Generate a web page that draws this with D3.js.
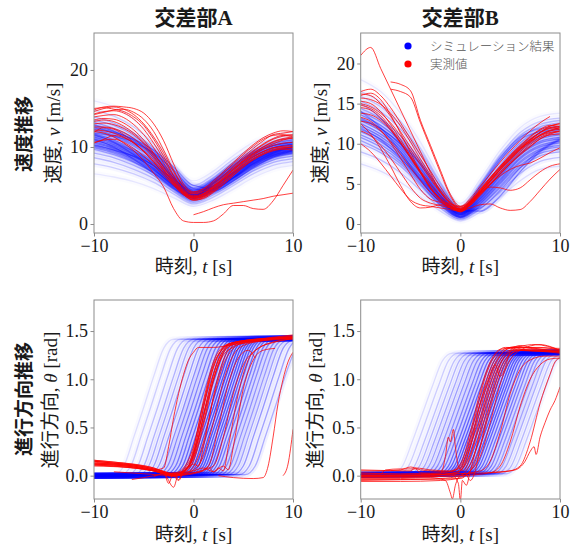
<!DOCTYPE html>
<html><head><meta charset="utf-8">
<script src="https://cdn.jsdelivr.net/npm/d3@7"></script>
<style>
body{margin:0;background:#fff}
svg{display:block}
text{font-family:"Liberation Serif","Noto Sans CJK JP",serif;fill:#1a1a1a}
</style></head><body>
<svg id="c" width="578" height="546"></svg>
<script>
// ---------------- DATA ----------------
const colTitles = ["交差部A", "交差部B"];
const rowTitles = ["速度推移", "進行方向推移"];
const legendLabels = ["シミュレーション結果", "実測値"];
const xTicks = [-10, 0, 10];
const speedATicks = [0, 10, 20];
const speedBTicks = [0, 5, 10, 15, 20];
const headTicks = [0, 0.5, 1.0, 1.5];

// time grids
const tFine = [-10,-9,-8,-7,-6,-5,-4,-3,-2,-1,0,1,2,3,4,5,6,7,8,9,10];
const tCoarse = [-10,-8,-6,-4,-2,0,2,4,6,8,10];

// simulation (blue) speed, intersection A  (values at tCoarse)
const speedA_sim = [
[16.0,15.2,13.6,11.2,7.8,5.6,6.9,8.9,10.6,11.6,12.0],
[14.8,14.0,12.6,10.4,7.2,5.0,6.4,8.4,10.0,11.1,11.6],
[13.9,13.1,11.8,9.8,6.8,4.7,6.0,8.0,9.6,10.7,11.2],
[13.5,12.8,11.5,9.5,6.6,4.5,5.8,7.8,9.4,10.5,11.0],
[13.2,12.4,11.1,9.2,6.4,4.4,5.7,7.6,9.3,10.4,10.9],
[12.9,12.1,10.8,9.0,6.3,4.3,5.5,7.4,9.1,10.2,10.7],
[12.6,11.8,10.6,8.8,6.1,4.2,5.4,7.3,9.0,10.1,10.6],
[12.3,11.5,10.3,8.6,6.0,4.1,5.3,7.1,8.8,9.9,10.4],
[12.1,11.3,10.1,8.4,5.9,4.0,5.2,7.0,8.7,9.8,10.3],
[11.7,10.9,9.7,8.1,5.7,3.9,5.0,6.8,8.5,9.6,10.1],
[11.5,10.7,9.5,7.9,5.6,3.8,4.9,6.7,8.4,9.5,10.0],
[11.3,10.5,9.4,7.8,5.5,3.8,4.9,6.6,8.3,9.4,9.9],
[11.1,10.3,9.2,7.6,5.4,3.7,4.8,6.5,8.2,9.3,9.8],
[10.9,10.1,9.0,7.5,5.3,3.6,4.7,6.4,8.1,9.2,9.7],
[10.7,9.9,8.8,7.3,5.2,3.5,4.6,6.3,8.0,9.1,9.6],
[10.5,9.8,8.7,7.2,5.1,3.5,4.6,6.2,7.9,9.0,9.5],
[10.3,9.6,8.5,7.0,5.0,3.4,4.5,6.1,7.8,8.9,9.4],
[10.1,9.4,8.3,6.9,4.9,3.4,4.4,6.0,7.7,8.8,9.3],
[9.9,9.2,8.1,6.7,4.8,3.3,4.3,5.9,7.5,8.7,9.2],
[9.7,9.0,8.0,6.6,4.7,3.2,4.2,5.8,7.4,8.6,9.1],
[9.2,8.6,7.6,6.3,4.5,3.0,4.0,5.6,7.2,8.3,8.8],
[8.6,8.0,7.1,5.9,4.2,2.8,3.8,5.3,6.9,8.0,8.5],
[7.8,7.3,6.5,5.4,3.9,2.6,3.5,5.0,6.5,7.6,8.1],
[6.5,6.1,5.5,4.6,3.4,2.3,3.1,4.5,6.0,7.1,7.6],
[12.4,11.9,11.0,9.6,7.4,5.0,4.6,6.0,7.8,9.2,10.0],
[11.8,11.4,10.6,9.2,7.0,4.6,4.3,5.6,7.3,8.7,9.5],
[11.0,10.0,8.4,6.6,4.6,3.4,5.6,7.6,9.2,10.2,10.6],
[11.6,10.6,9.0,7.1,5.0,3.6,5.3,7.2,8.8,9.9,10.4],
[12.8,12.0,10.9,9.0,6.0,3.7,4.4,6.0,7.6,8.9,9.6],
[10.2,9.6,8.8,7.6,5.8,4.1,5.0,6.6,8.2,9.4,10.0]
];
// measured (red) speed, intersection A (values at tFine)
const speedA_obs = [
[14.6,15.0,15.2,14.9,14.2,13.0,11.3,9.2,6.8,4.8,4.0,4.3,5.2,6.3,7.5,8.7,9.8,10.8,11.6,11.8,12.0],
[15.0,15.1,14.9,14.6,13.9,12.8,11.0,8.8,6.3,4.4,3.7,4.0,4.9,6.0,7.2,8.3,9.4,10.3,11.0,11.4,11.6],
[14.3,14.6,14.7,14.4,13.6,12.3,10.5,8.4,6.2,4.5,3.9,4.2,5.0,6.2,7.4,8.5,9.5,10.4,11.1,11.5,11.3],
[13.9,14.1,14.2,13.8,12.9,11.6,9.9,7.9,5.9,4.3,3.6,3.9,4.8,5.9,7.1,8.2,9.2,10.0,10.6,11.0,11.1],
[13.5,13.7,13.6,13.1,12.2,10.9,9.2,7.4,5.6,4.1,3.4,3.7,4.6,5.7,6.8,7.9,8.9,9.7,10.2,10.5,10.6],
[13.0,13.1,12.9,12.4,11.6,10.4,8.8,7.1,5.4,4.0,3.3,3.6,4.5,5.5,6.6,7.7,8.7,9.4,9.9,10.1,10.2],
[12.6,12.6,12.4,11.9,11.1,10.0,8.6,7.0,5.3,3.9,3.2,3.5,4.3,5.4,6.5,7.6,8.5,9.2,9.7,9.9,10.0],
[12.2,12.1,11.8,11.3,10.5,9.4,8.1,6.6,5.1,3.8,3.1,3.4,4.2,5.2,6.3,7.4,8.4,9.1,9.6,9.8,9.9],
[11.9,12.5,12.3,11.6,10.6,9.4,8.0,6.6,5.2,4.0,3.5,3.8,4.7,5.8,7.0,8.1,9.0,9.8,10.4,10.9,11.2],
[10.5,11.0,11.5,11.2,10.5,9.5,8.3,6.9,5.4,4.1,3.4,3.6,4.4,5.5,6.7,7.8,8.7,9.4,9.9,10.0,9.9],
[10.6,10.9,11.0,10.6,9.8,8.8,7.6,6.3,5.0,3.8,3.1,3.3,4.1,5.1,6.3,7.4,8.3,9.0,9.5,9.7,9.6],
[14.8,15.2,15.3,15.2,15.0,14.4,13.0,10.8,7.8,5.2,4.2,4.6,5.6,6.8,8.0,9.2,10.3,11.2,11.8,12.1,12.0],
[14.2,14.5,14.8,14.9,14.5,13.6,12.0,9.6,7.0,4.9,4.1,4.5,5.4,6.6,7.8,9.0,10.1,11.0,11.5,11.6,11.5],
[12.0,11.8,11.3,10.5,9.5,8.2,6.6,4.8,2.0,0.4,0.2,0.2,0.4,1.3,2.4,2.4,2.0,1.9,3.0,5.0,7.0],
[null,null,null,null,null,null,null,null,null,null,1.2,1.6,2.1,2.5,2.7,2.9,3.1,3.3,3.6,3.8,4.0],
[13.3,13.5,13.3,12.7,11.8,10.6,9.1,7.4,5.7,4.2,3.5,3.9,4.8,5.9,7.0,8.1,9.1,10.0,10.7,11.1,11.3]
];
// simulation (blue) speed, intersection B (values at tCoarse)
const speedB_sim = [
[18.0,16.5,13.8,10.2,5.8,2.6,5.6,9.2,12.0,13.4,13.8],
[16.5,15.2,12.8,9.4,5.2,2.2,5.0,8.6,11.4,12.8,13.2],
[15.9,14.6,12.3,9.0,5.0,2.0,4.7,8.2,11.0,12.4,12.9],
[15.3,14.0,11.8,8.6,4.7,1.9,4.5,7.9,10.7,12.1,12.6],
[14.4,13.1,11.0,7.9,4.2,1.7,4.1,7.3,10.1,11.6,12.1],
[14.0,12.7,10.6,7.6,4.0,1.6,3.9,7.0,9.8,11.3,11.8],
[13.6,12.3,10.3,7.3,3.8,1.5,3.7,6.8,9.6,11.1,11.6],
[13.2,11.9,9.9,7.0,3.6,1.4,3.5,6.5,9.3,10.8,11.3],
[12.9,11.6,9.6,6.8,3.5,1.3,3.4,6.3,9.1,10.6,11.1],
[12.5,11.2,9.3,6.5,3.3,1.2,3.2,6.1,8.8,10.3,10.8],
[12.2,10.9,9.0,6.3,3.2,1.2,3.1,5.9,8.6,10.1,10.6],
[11.8,10.6,8.7,6.0,3.0,1.1,2.9,5.6,8.3,9.8,10.3],
[11.5,10.3,8.4,5.8,2.9,1.0,2.8,5.4,8.1,9.6,10.1],
[11.1,9.9,8.1,5.5,2.7,0.9,2.6,5.2,7.8,9.3,9.8],
[10.8,9.6,7.8,5.3,2.6,0.9,2.5,5.0,7.6,9.1,9.6],
[10.4,9.2,7.5,5.0,2.4,0.8,2.3,4.7,7.3,8.8,9.3],
[10.0,8.9,7.2,4.8,2.3,0.8,2.2,4.5,7.0,8.5,9.0],
[9.0,8.0,6.4,4.2,2.0,0.6,1.9,4.0,6.3,7.8,8.3],
[7.5,6.6,5.2,3.4,1.6,0.4,1.5,3.3,5.4,6.8,7.2],
[13.0,11.9,10.0,7.5,4.3,1.8,1.6,3.5,6.5,9.0,10.5],
[12.0,10.5,8.2,5.6,3.2,1.5,2.0,4.2,7.0,9.2,10.6],
[14.0,12.0,9.0,5.5,2.8,1.4,4.5,8.0,10.5,11.5,11.8],
[15.0,13.2,10.0,6.5,3.5,1.6,4.8,8.3,10.8,11.9,12.2]
];
// measured (red) speed, intersection B (values at tFine)
const speedB_obs = [
[21.0,22.0,19.4,16.8,14.2,11.6,9.0,6.4,4.0,2.6,2.1,3.0,4.4,5.8,7.2,8.5,9.7,10.8,11.7,12.2,12.5],
[null,null,null,17.7,17.4,16.6,12.9,9.8,6.7,3.7,2.2,2.8,4.2,5.7,7.1,8.4,9.6,10.6,11.4,11.9,12.1],
[null,null,null,16.8,16.5,15.8,12.6,9.5,6.4,3.5,2.0,2.7,4.0,5.4,6.8,8.1,9.3,10.3,11.1,11.6,11.8],
[16.5,16.8,16.0,14.5,12.6,10.6,8.6,6.6,4.6,2.9,1.9,2.9,4.3,5.8,7.2,8.6,9.8,10.9,11.8,12.3,12.1],
[16.2,16.0,15.0,13.4,11.5,9.6,7.7,5.8,4.0,2.6,1.8,2.7,4.1,5.6,7.0,8.3,9.5,10.5,11.4,12.0,11.8],
[15.7,15.5,14.9,13.8,12.2,10.2,8.1,6.1,4.2,2.7,1.8,2.6,4.0,5.4,6.8,8.1,9.3,10.4,11.4,12.2,12.5],
[15.0,14.6,13.8,12.6,11.0,9.2,7.4,5.6,3.9,2.5,1.6,2.5,3.8,5.2,6.5,7.8,9.0,10.1,11.0,11.6,12.0],
[14.5,14.2,13.2,11.8,10.1,8.3,6.6,5.0,3.5,2.3,1.6,2.3,3.6,4.9,6.3,7.6,8.8,9.9,10.8,11.3,11.5],
[13.8,13.6,12.9,11.7,10.1,8.2,6.3,4.5,3.2,2.2,1.5,2.4,3.7,5.0,6.3,7.5,8.6,9.6,10.6,11.1,11.2],
[16.0,16.3,15.5,13.6,11.3,8.9,6.5,4.4,3.0,2.5,2.2,3.2,4.7,6.2,7.7,9.1,10.4,11.6,12.6,13.4,null],
[10.0,9.0,7.6,6.0,4.4,3.0,2.4,2.2,2.0,1.8,1.6,2.5,3.9,5.3,6.7,8.0,9.2,10.2,11.1,11.7,12.0],
[11.6,11.0,9.8,8.2,6.4,4.6,3.2,2.6,2.3,2.0,1.7,2.4,3.6,4.9,6.2,7.5,8.7,9.7,10.6,11.2,11.6],
[13.3,12.8,11.7,10.1,8.2,6.2,4.3,3.1,2.7,2.3,1.8,2.6,4.0,5.4,6.8,8.2,9.4,10.5,11.4,12.0,12.2],
[12.5,11.2,9.4,7.2,4.8,2.8,2.0,2.1,2.4,2.2,1.8,2.8,4.2,5.6,7.0,8.3,9.4,10.3,11.0,11.4,11.6],
[15.3,15.0,14.0,12.4,10.5,8.5,6.5,4.6,3.0,2.0,1.6,2.0,2.4,2.5,2.0,1.7,1.8,2.8,4.2,5.6,6.8],
[14.8,14.4,13.5,12.0,10.2,8.3,6.4,4.6,3.1,2.1,1.9,2.8,3.9,4.6,4.5,4.2,4.5,5.5,6.5,7.2,7.5],
[12.8,12.5,11.6,10.3,8.7,7.0,5.4,3.9,2.8,2.0,1.7,2.6,3.8,5.0,6.0,6.8,7.3,7.6,8.2,8.9,9.5]
];
// simulation (blue) heading, intersection A ([t, theta] points)
const headA_sim = [
[[-10,0],[-8,0.01],[-7,0.1],[-6,0.4],[-5,0.71],[-4,1.03],[-3,1.32],[-2,1.415],[10,1.425]],
[[-10,0],[-7.3,0.01],[-6.3,0.1],[-5.3,0.4],[-4.3,0.71],[-3.3,1.03],[-2.3,1.32],[-1.3,1.415],[10,1.425]],
[[-10,0],[-6.6,0.01],[-5.6,0.1],[-4.6,0.4],[-3.6,0.71],[-2.6,1.03],[-1.6,1.32],[-0.6,1.415],[10,1.425]],
[[-10,0],[-6,0.01],[-5,0.1],[-4,0.4],[-3,0.71],[-2,1.03],[-1,1.32],[0,1.415],[10,1.425]],
[[-10,0],[-5.5,0.01],[-4.5,0.1],[-3.5,0.4],[-2.5,0.71],[-1.5,1.03],[-0.5,1.32],[0.5,1.415],[10,1.425]],
[[-10,0],[-5,0.01],[-4,0.1],[-3,0.4],[-2,0.71],[-1,1.03],[0,1.32],[1,1.415],[10,1.425]],
[[-10,0],[-4.5,0.01],[-3.5,0.1],[-2.5,0.4],[-1.5,0.71],[-0.5,1.03],[0.5,1.32],[1.5,1.415],[10,1.425]],
[[-10,0],[-4,0.01],[-3,0.1],[-2,0.4],[-1,0.71],[0,1.03],[1,1.32],[2,1.415],[10,1.425]],
[[-10,0],[-3.6,0.01],[-2.6,0.1],[-1.6,0.4],[-0.6,0.71],[0.4,1.03],[1.4,1.32],[2.4,1.415],[10,1.425]],
[[-10,0],[-3.2,0.01],[-2.2,0.1],[-1.2,0.4],[-0.2,0.71],[0.8,1.03],[1.8,1.32],[2.8,1.415],[10,1.425]],
[[-10,0],[-2.8,0.01],[-1.8,0.1],[-0.8,0.4],[0.2,0.71],[1.2,1.03],[2.2,1.32],[3.2,1.415],[10,1.425]],
[[-10,0],[-2.45,0.01],[-1.45,0.1],[-0.45,0.4],[0.55,0.71],[1.55,1.03],[2.55,1.32],[3.55,1.415],[10,1.425]],
[[-10,0],[-2.1,0.01],[-1.1,0.1],[-0.1,0.4],[0.9,0.71],[1.9,1.03],[2.9,1.32],[3.9,1.415],[10,1.425]],
[[-10,0],[-1.8,0.01],[-0.8,0.1],[0.2,0.4],[1.2,0.71],[2.2,1.03],[3.2,1.32],[4.2,1.415],[10,1.425]],
[[-10,0],[-1.5,0.01],[-0.5,0.1],[0.5,0.4],[1.5,0.71],[2.5,1.03],[3.5,1.32],[4.5,1.415],[10,1.425]],
[[-10,0],[-1.25,0.01],[-0.25,0.1],[0.75,0.4],[1.75,0.71],[2.75,1.03],[3.75,1.32],[4.75,1.415],[10,1.425]],
[[-10,0],[-1,0.01],[0,0.1],[1,0.4],[2,0.71],[3,1.03],[4,1.32],[5,1.415],[10,1.425]],
[[-10,0],[-0.75,0.01],[0.25,0.1],[1.25,0.4],[2.25,0.71],[3.25,1.03],[4.25,1.32],[5.25,1.415],[10,1.425]],
[[-10,0],[-0.5,0.01],[0.5,0.1],[1.5,0.4],[2.5,0.71],[3.5,1.03],[4.5,1.32],[5.5,1.415],[10,1.425]],
[[-10,0],[-0.25,0.01],[0.75,0.1],[1.75,0.4],[2.75,0.71],[3.75,1.03],[4.75,1.32],[5.75,1.415],[10,1.425]],
[[-10,0],[0,0.01],[1,0.1],[2,0.4],[3,0.71],[4,1.03],[5,1.32],[6,1.415],[10,1.425]],
[[-10,0],[0.25,0.01],[1.25,0.1],[2.25,0.4],[3.25,0.71],[4.25,1.03],[5.25,1.32],[6.25,1.415],[10,1.425]],
[[-10,0],[0.5,0.01],[1.5,0.1],[2.5,0.4],[3.5,0.71],[4.5,1.03],[5.5,1.32],[6.5,1.415],[10,1.425]],
[[-10,0],[0.75,0.01],[1.75,0.1],[2.75,0.4],[3.75,0.71],[4.75,1.03],[5.75,1.32],[6.75,1.415],[10,1.425]],
[[-10,0],[1,0.01],[2,0.1],[3,0.4],[4,0.71],[5,1.03],[6,1.32],[7,1.415],[10,1.425]],
[[-10,0],[1.3,0.01],[2.3,0.1],[3.3,0.4],[4.3,0.71],[5.3,1.03],[6.3,1.32],[7.3,1.415],[10,1.425]],
[[-10,0],[1.6,0.01],[2.6,0.1],[3.6,0.4],[4.6,0.71],[5.6,1.03],[6.6,1.32],[7.6,1.415],[10,1.425]],
[[-10,0],[1.95,0.01],[2.95,0.1],[3.95,0.4],[4.95,0.71],[5.95,1.03],[6.95,1.32],[7.95,1.415],[10,1.425]],
[[-10,0],[2.3,0.01],[3.3,0.1],[4.3,0.4],[5.3,0.71],[6.3,1.03],[7.3,1.32],[8.3,1.415],[10,1.425]],
[[-10,0],[2.7,0.01],[3.7,0.1],[4.7,0.4],[5.7,0.71],[6.7,1.03],[7.7,1.32],[8.7,1.415],[10,1.425]],
[[-10,0],[3.1,0.01],[4.1,0.1],[5.1,0.4],[6.1,0.71],[7.1,1.03],[8.1,1.32],[9.1,1.415],[10,1.425]],
[[-10,0],[3.5,0.01],[4.5,0.1],[5.5,0.4],[6.5,0.71],[7.5,1.03],[8.5,1.32],[9.5,1.415],[10,1.425]],
[[-10,0],[4,0.01],[5,0.1],[6,0.4],[7,0.71],[8,1.03],[9,1.32],[10,1.415]],
[[-10,0],[4.6,0.01],[5.6,0.1],[6.6,0.4],[7.6,0.71],[8.6,1.03],[9.6,1.32],[10,1.38]],
[[-10,0],[5.2,0.01],[6.2,0.1],[7.2,0.4],[8.2,0.71],[9.2,1.03],[10,1.26]]
];
// measured (red) heading, intersection A
const headA_obs = [
[[-10,0.15],[-8,0.13],[-6,0.11],[-4,0.07],[-3,0.04],[-2,0.01],[-1,0.05],[0,0.2],[1,0.62],[2,1.05],[3,1.3],[4,1.37],[6,1.4],[8,1.42],[10,1.44]],
[[-10,0.14],[-8,0.12],[-6,0.1],[-4,0.06],[-2,0.0],[-1,0.03],[0,0.15],[1,0.52],[2,0.98],[3,1.27],[4,1.36],[6,1.4],[8,1.42],[10,1.43]],
[[-10,0.12],[-8,0.11],[-6,0.09],[-4,0.05],[-2,-0.01],[-1,0.06],[0,0.25],[1,0.7],[2,1.12],[3,1.33],[4,1.38],[6,1.41],[8,1.43],[10,1.44]],
[[-10,0.16],[-8,0.14],[-6,0.12],[-4,0.08],[-2.5,0.02],[-1.5,0.02],[-0.5,0.1],[0.5,0.4],[1.5,0.85],[2.5,1.2],[3.5,1.35],[5,1.4],[7,1.42],[10,1.45]],
[[-10,0.13],[-8,0.12],[-6,0.1],[-4,0.06],[-2,0.01],[-1,0.02],[0,0.09],[1,0.35],[2,0.8],[3,1.15],[4,1.32],[5,1.38],[7,1.41],[10,1.43]],
[[-10,0.11],[-8,0.1],[-6,0.08],[-4,0.05],[-2,0.0],[-0.5,0.08],[0.5,0.45],[1.5,0.95],[2.5,1.25],[3.5,1.36],[5,1.4],[7,1.42],[10,1.42]],
[[-10,0.15],[-8,0.13],[-6,0.11],[-4,0.07],[-2,0.0],[-1.5,-0.05],[-1,0.04],[0,0.18],[1,0.55],[2,1.0],[3,1.28],[4,1.36],[6,1.4],[10,1.44]],
[[-10,0.12],[-6,0.09],[-4,0.06],[-3,0.08],[-2.5,0.3],[-2,0.6],[-1.5,0.85],[-1,1.05],[-0.5,1.2],[0,1.28],[0.5,1.33],[2,1.33],[4,1.36],[7,1.4],[10,1.42]],
[[-10,0.1],[-6,0.08],[-4,0.05],[-2,0.0],[0,0.03],[1,0.06],[2,0.1],[3,0.4],[4,0.85],[5,1.15],[6,1.28],[7,1.35],[10,1.42]],
[[-8,0.04],[-5,0.02],[-2,0.0],[0,0.02],[1.5,0.1],[2.5,0.5],[3.5,0.95],[4.5,1.22],[5.5,1.3],[6.2,1.22]],
[[-4,-0.01],[-3,0.02],[-2,-0.12],[-1.5,0.02],[0,0.05],[1,0.08],[2,0.04],[3,0.1],[3.5,0.06],[4,0.3],[5,0.9],[6,1.2],[7,1.3],[8.2,1.32]],
[[2.5,0.0],[4,-0.02],[6,-0.03],[7,-0.02],[7.5,0.1],[8,0.4],[8.5,0.75],[9,1.0],[9.5,1.18],[10,1.28]],
[[9.0,0.0],[9.5,0.12],[10,0.48]],
[[-6.2,-0.04],[-5,-0.02],[-4,0.0],[-3,0.02],[-2,0.03],[-1,0.05],[0,0.2],[1,0.6],[2,1.0],[3,1.25],[4,1.33]],
[[-10,0.15],[-8,0.13],[-6,0.11],[-4,0.07],[-3,0.04],[-2.5,-0.08],[-2,0.03],[-1.5,-0.04],[-1,0.06],[-0.5,0.1],[0,0.28],[1,0.78],[2,1.18],[3,1.34],[4,1.38],[7,1.41],[10,1.43]],
[[-10,0.13],[-6,0.1],[-4,0.06],[-2,0.02],[-1,0.04],[0,0.12],[0.5,0.1],[1,0.3],[1.5,0.55],[2,0.82],[3,1.2],[4,1.34],[6,1.39],[10,1.44]],
[[-10,0.12],[-6,0.09],[-4,0.05],[-2,0.01],[0,0.03],[1,0.05],[1.5,0.09],[2,0.04],[2.5,0.08],[3,0.05],[3.5,0.3],[4.5,0.85],[5.5,1.2],[6.5,1.32],[8,1.38],[10,1.42]],
[[-10,0.16],[-7,0.13],[-4,0.08],[-2,0.02],[-1,0.08],[0,0.3],[1,0.75],[2,1.15],[3,1.32],[4,1.38],[6,1.41],[10,1.46]],
[[-10,0.11],[-7,0.09],[-4,0.05],[-2,0.0],[0,0.06],[1,0.2],[2,0.55],[3,0.98],[4,1.25],[5,1.35],[7,1.4],[10,1.43]]
];
// simulation (blue) heading, intersection B
const headB_sim = [
[[-10,0.01],[-6.8,0.02],[-5.8,0.1],[-4.8,0.36],[-3.8,0.645],[-2.8,0.93],[-1.8,1.19],[-0.8,1.27],[10,1.28]],
[[-10,0.01],[-6.2,0.02],[-5.2,0.1],[-4.2,0.36],[-3.2,0.645],[-2.2,0.93],[-1.2,1.19],[-0.2,1.27],[10,1.28]],
[[-10,0.01],[-5.6,0.02],[-4.6,0.1],[-3.6,0.36],[-2.6,0.645],[-1.6,0.93],[-0.6,1.19],[0.4,1.27],[10,1.28]],
[[-10,0.01],[-5.1,0.02],[-4.1,0.1],[-3.1,0.36],[-2.1,0.645],[-1.1,0.93],[-0.1,1.19],[0.9,1.27],[10,1.28]],
[[-10,0.01],[-4.6,0.02],[-3.6,0.1],[-2.6,0.36],[-1.6,0.645],[-0.6,0.93],[0.4,1.19],[1.4,1.27],[10,1.28]],
[[-10,0.01],[-4.15,0.02],[-3.15,0.1],[-2.15,0.36],[-1.15,0.645],[-0.15,0.93],[0.85,1.19],[1.85,1.27],[10,1.28]],
[[-10,0.01],[-3.7,0.02],[-2.7,0.1],[-1.7,0.36],[-0.7,0.645],[0.3,0.93],[1.3,1.19],[2.3,1.27],[10,1.28]],
[[-10,0.01],[-3.3,0.02],[-2.3,0.1],[-1.3,0.36],[-0.3,0.645],[0.7,0.93],[1.7,1.19],[2.7,1.27],[10,1.28]],
[[-10,0.01],[-2.9,0.02],[-1.9,0.1],[-0.9,0.36],[0.1,0.645],[1.1,0.93],[2.1,1.19],[3.1,1.27],[10,1.28]],
[[-10,0.01],[-2.55,0.02],[-1.55,0.1],[-0.55,0.36],[0.45,0.645],[1.45,0.93],[2.45,1.19],[3.45,1.27],[10,1.28]],
[[-10,0.01],[-2.2,0.02],[-1.2,0.1],[-0.2,0.36],[0.8,0.645],[1.8,0.93],[2.8,1.19],[3.8,1.27],[10,1.28]],
[[-10,0.01],[-1.9,0.02],[-0.9,0.1],[0.1,0.36],[1.1,0.645],[2.1,0.93],[3.1,1.19],[4.1,1.27],[10,1.28]],
[[-10,0.01],[-1.6,0.02],[-0.6,0.1],[0.4,0.36],[1.4,0.645],[2.4,0.93],[3.4,1.19],[4.4,1.27],[10,1.28]],
[[-10,0.01],[-1.35,0.02],[-0.35,0.1],[0.65,0.36],[1.65,0.645],[2.65,0.93],[3.65,1.19],[4.65,1.27],[10,1.28]],
[[-10,0.01],[-1.1,0.02],[-0.1,0.1],[0.9,0.36],[1.9,0.645],[2.9,0.93],[3.9,1.19],[4.9,1.27],[10,1.28]],
[[-10,0.01],[-0.85,0.02],[0.15,0.1],[1.15,0.36],[2.15,0.645],[3.15,0.93],[4.15,1.19],[5.15,1.27],[10,1.28]],
[[-10,0.01],[-0.6,0.02],[0.4,0.1],[1.4,0.36],[2.4,0.645],[3.4,0.93],[4.4,1.19],[5.4,1.27],[10,1.28]],
[[-10,0.01],[-0.35,0.02],[0.65,0.1],[1.65,0.36],[2.65,0.645],[3.65,0.93],[4.65,1.19],[5.65,1.27],[10,1.28]],
[[-10,0.01],[-0.1,0.02],[0.9,0.1],[1.9,0.36],[2.9,0.645],[3.9,0.93],[4.9,1.19],[5.9,1.27],[10,1.28]],
[[-10,0.01],[0.15,0.02],[1.15,0.1],[2.15,0.36],[3.15,0.645],[4.15,0.93],[5.15,1.19],[6.15,1.27],[10,1.28]],
[[-10,0.01],[0.4,0.02],[1.4,0.1],[2.4,0.36],[3.4,0.645],[4.4,0.93],[5.4,1.19],[6.4,1.27],[10,1.28]],
[[-10,0.01],[0.65,0.02],[1.65,0.1],[2.65,0.36],[3.65,0.645],[4.65,0.93],[5.65,1.19],[6.65,1.27],[10,1.28]],
[[-10,0.01],[0.9,0.02],[1.9,0.1],[2.9,0.36],[3.9,0.645],[4.9,0.93],[5.9,1.19],[6.9,1.27],[10,1.28]],
[[-10,0.01],[1.2,0.02],[2.2,0.1],[3.2,0.36],[4.2,0.645],[5.2,0.93],[6.2,1.19],[7.2,1.27],[10,1.28]],
[[-10,0.01],[1.5,0.02],[2.5,0.1],[3.5,0.36],[4.5,0.645],[5.5,0.93],[6.5,1.19],[7.5,1.27],[10,1.28]],
[[-10,0.01],[1.8,0.02],[2.8,0.1],[3.8,0.36],[4.8,0.645],[5.8,0.93],[6.8,1.19],[7.8,1.27],[10,1.28]],
[[-10,0.01],[2.1,0.02],[3.1,0.1],[4.1,0.36],[5.1,0.645],[6.1,0.93],[7.1,1.19],[8.1,1.27],[10,1.28]],
[[-10,0.01],[2.45,0.02],[3.45,0.1],[4.45,0.36],[5.45,0.645],[6.45,0.93],[7.45,1.19],[8.45,1.27],[10,1.28]],
[[-10,0.01],[2.8,0.02],[3.8,0.1],[4.8,0.36],[5.8,0.645],[6.8,0.93],[7.8,1.19],[8.8,1.27],[10,1.28]],
[[-10,0.01],[3.2,0.02],[4.2,0.1],[5.2,0.36],[6.2,0.645],[7.2,0.93],[8.2,1.19],[9.2,1.27],[10,1.28]],
[[-10,0.01],[3.6,0.02],[4.6,0.1],[5.6,0.36],[6.6,0.645],[7.6,0.93],[8.6,1.19],[9.6,1.27],[10,1.28]],
[[-10,0.01],[4.1,0.02],[5.1,0.1],[6.1,0.36],[7.1,0.645],[8.1,0.93],[9.1,1.19],[10,1.26]],
[[-10,0.01],[4.6,0.02],[5.6,0.1],[6.6,0.36],[7.6,0.645],[8.6,0.93],[9.6,1.19],[10,1.23]]
];
// measured (red) heading, intersection B
const headB_obs = [
[[-10,-0.02],[-6,-0.02],[-3,-0.01],[-1,0.0],[0,0.05],[1,0.22],[2,0.6],[3,1.0],[4,1.24],[5,1.32],[6,1.3],[8,1.29],[10,1.29]],
[[-10,0.0],[-6,0.0],[-2,0.01],[-0.5,0.03],[0.5,0.15],[1.5,0.48],[2.5,0.88],[3.5,1.17],[4.5,1.3],[5.5,1.34],[7,1.32],[10,1.3]],
[[-10,-0.04],[-6,-0.04],[-2,-0.03],[0,0.0],[1,0.12],[2,0.42],[3,0.82],[4,1.15],[5,1.3],[6,1.35],[7,1.33],[10,1.28]],
[[-10,0.05],[-8,0.05],[-6,0.06],[-5,0.09],[-4,0.06],[-3,0.05],[-1,0.04],[0,0.1],[1,0.35],[2,0.76],[3,1.1],[4,1.28],[5,1.33],[7,1.3],[10,1.29]],
[[-10,-0.06],[-6,-0.06],[-2,-0.05],[0,-0.02],[1,0.05],[2,0.3],[3,0.7],[4,1.05],[5,1.25],[6,1.3],[10,1.28]],
[[-10,0.02],[-8,0.02],[-7.5,0.06],[-6,0.07],[-4.5,0.07],[-4,0.03],[-2,0.02],[-1.5,0.2],[-1.2,0.4],[-1,0.35],[-0.7,0.48],[-0.5,0.3],[-0.2,0.1],[0.3,0.05],[1,0.2],[2,0.55],[3,0.95],[4,1.2],[5,1.3],[7,1.31],[10,1.28]],
[[-10,-0.03],[-6,-0.03],[-3,-0.02],[-1.5,-0.05],[-1,-0.18],[-0.8,-0.24],[-0.5,-0.1],[0,0.0],[0.5,0.02],[1,-0.05],[1.5,0.05],[2,0.3],[3,0.75],[4,1.1],[5,1.26],[6,1.3],[10,1.27]],
[[-10,0.0],[-5,0.0],[-1,0.02],[-0.2,-0.08],[0,-0.26],[0.2,-0.05],[0.6,-0.1],[1,0.05],[1.5,0.25],[2.5,0.7],[3.5,1.05],[4.5,1.24],[5.5,1.3],[10,1.29]],
[[-10,0.01],[-4,0.01],[0,0.02],[2,0.05],[3,0.15],[4,0.45],[5,0.85],[6,1.1],[7,1.2],[8.5,1.24],[10,1.24]],
[[-10,-0.01],[-4,-0.01],[0,0.0],[3,0.03],[4,0.1],[5,0.35],[6,0.72],[7,1.0],[8,1.15],[9,1.21],[10,1.22]],
[[-10,0.0],[0,0.02],[4,0.04],[5.5,0.06],[6.5,0.15],[7,0.25],[7.4,0.3],[7.6,0.22],[8,0.4],[8.5,0.55],[9,0.68],[9.5,0.78],[10,0.92]],
[[3,0.03],[5,0.05],[6,0.1],[7,0.35],[8,0.75],[9,1.05],[9.5,1.18],[10,1.22]],
[[-10,-0.01],[-3,0.0],[0,0.05],[1,0.3],[2,0.75],[2.8,1.0],[3.5,1.15],[4,1.03],[4.5,1.12],[5,1.28],[6,1.34],[7.5,1.36],[10,1.3]],
[[-10,0.06],[-5,0.05],[-4.5,0.08],[-3,0.06],[-1,0.05],[0,0.12],[1,0.45],[2,0.88],[3,1.18],[4,1.31],[6,1.33],[8,1.33],[10,1.3]],
[[-10,-0.05],[-5,-0.04],[0,-0.03],[1,0.05],[2,0.2],[3,0.55],[4,0.95],[5,1.2],[6,1.3],[8,1.36],[9,1.34],[10,1.3]],
[[-10,0.03],[-6,0.02],[-2,0.03],[0,0.08],[0.5,0.2],[1.5,0.62],[2.5,1.02],[3.5,1.25],[4.5,1.33],[10,1.32]]
];

// ---------------- DRAWING ----------------
const toPairs = (grid, arr) => arr.map(v => v.map((y, i) => [grid[i], y]));
const svg = d3.select("#c");
const FRAME = "#8c8c8c";
const BLUE = "#0000ff", RED = "#ff0000";

// ranking key for each simulated curve (used only to fade outlying curves)
const meanKey = c => d3.mean(c, d => d[1]);
const halfKey = c => { const m = d3.max(c, d => d[1]); const f = c.find(d => d[1] >= m / 2); return f ? f[0] : 10; };

const panels = [
  {px:[94,293], py:[233,33], yd:[-1.17,24.8], yt:speedATicks, fmt:d3.format("d"),
   sim:toPairs(tCoarse, speedA_sim), obs:toPairs(tFine, speedA_obs), key:meanKey, gain:1},
  {px:[360.7,560], py:[233,33], yd:[-1.12,23.8], yt:speedBTicks, fmt:d3.format("d"),
   sim:toPairs(tCoarse, speedB_sim), obs:toPairs(tFine, speedB_obs), key:meanKey, gain:1},
  {px:[94,293], py:[499,300], yd:[-0.242,1.822], yt:headTicks, fmt:d3.format(".1f"),
   sim:headA_sim, obs:headA_obs, key:halfKey, gain:1.45},
  {px:[360.7,560], py:[499,300], yd:[-0.242,1.822], yt:headTicks, fmt:d3.format(".1f"),
   sim:headB_sim, obs:headB_obs, key:halfKey, gain:1.45}
];

panels.forEach((p, k) => {
  const x = d3.scaleLinear().domain([-10, 10]).range(p.px);
  const y = d3.scaleLinear().domain(p.yd).range(p.py);
  const g = svg.append("g");
  const cid = "clip" + k;
  g.append("clipPath").attr("id", cid).append("rect")
    .attr("x", p.px[0]).attr("y", p.py[1])
    .attr("width", p.px[1] - p.px[0]).attr("height", p.py[0] - p.py[1]);
  const line = d3.line().defined(d => d[1] != null)
    .x(d => x(d[0])).y(d => y(d[1])).curve(d3.curveMonotoneX);
  const keys = p.sim.map(p.key);
  const med = d3.median(keys);
  const spread = d3.max(keys, v => Math.abs(v - med));
  const fade = p.sim.map((c, i) => 1 - 0.8 * Math.pow(Math.abs(keys[i] - med) / spread, 1.2));
  const plot = g.append("g").attr("clip-path", `url(#${cid})`);
  plot.append("g").selectAll("path").data(p.sim).join("path")
    .attr("d", line).attr("fill", "none").attr("stroke", BLUE)
    .attr("stroke-width", 6).attr("stroke-opacity", (d, i) => Math.min(1, 0.08 * fade[i] * p.gain));
  plot.append("g").selectAll("path").data(p.sim).join("path")
    .attr("d", line).attr("fill", "none").attr("stroke", BLUE)
    .attr("stroke-width", 1.3).attr("stroke-opacity", (d, i) => Math.min(1, 0.4 * fade[i] * p.gain));
  plot.append("g").selectAll("path").data(p.obs).join("path")
    .attr("d", line).attr("fill", "none").attr("stroke", RED)
    .attr("stroke-width", 1).attr("stroke-opacity", 0.75);
  g.append("rect").attr("x", p.px[0]).attr("y", p.py[1])
    .attr("width", p.px[1] - p.px[0]).attr("height", p.py[0] - p.py[1])
    .attr("fill", "none").attr("stroke", FRAME).attr("stroke-width", 1);
  const ax = g.append("g").attr("transform", `translate(0,${p.py[0]})`)
    .call(d3.axisBottom(x).tickValues(xTicks).tickSize(3.5).tickPadding(3));
  const ay = g.append("g").attr("transform", `translate(${p.px[0]},0)`)
    .call(d3.axisLeft(y).tickValues(p.yt).tickFormat(p.fmt).tickSize(3.5).tickPadding(2.5));
  [ax, ay].forEach(a => {
    a.select(".domain").remove();
    a.selectAll(".tick line").attr("stroke", FRAME);
    a.selectAll(".tick text").attr("font-size", 18).attr("fill", "#1a1a1a")
      .attr("font-family", "Liberation Serif, serif");
  });
});

const colCx = [193.5, 460.3];
colTitles.forEach((t, i) => {
  svg.append("text").attr("x", colCx[i]).attr("y", 25).attr("text-anchor", "middle")
    .attr("font-size", 21).attr("font-weight", "bold").text(t);
});

function xlabel(cx, by) {
  const t = svg.append("text").attr("x", cx).attr("y", by).attr("text-anchor", "middle").attr("font-size", 19);
  t.append("tspan").text("時刻, ");
  t.append("tspan").attr("font-style", "italic").text("t");
  t.append("tspan").text(" [s]");
}
[[193.5, 273], [460.3, 273], [193.5, 541], [460.3, 541]].forEach(d => xlabel(d[0], d[1]));

function ylabel(cx, cy, a, sym, unit) {
  const t = svg.append("text").attr("transform", `translate(${cx},${cy}) rotate(-90)`)
    .attr("text-anchor", "middle").attr("dy", "0.35em").attr("font-size", 19);
  t.append("tspan").text(a + ", ");
  t.append("tspan").attr("font-style", "italic").text(sym);
  t.append("tspan").text(" " + unit);
}
ylabel(53, 133, "速度", "v", "[m/s]");
ylabel(320, 133, "速度", "v", "[m/s]");
ylabel(50, 400, "進行方向", "θ", "[rad]");
ylabel(315, 400, "進行方向", "θ", "[rad]");

[[24, 134], [24, 399]].forEach((d, i) => {
  svg.append("text").attr("transform", `translate(${d[0]},${d[1]}) rotate(-90)`)
    .attr("text-anchor", "middle").attr("dy", "0.35em")
    .attr("font-size", 19).attr("font-weight", "bold").text(rowTitles[i]);
});

const legColors = [BLUE, RED];
legendLabels.forEach((l, i) => {
  svg.append("circle").attr("cx", 408).attr("cy", 46 + i * 18).attr("r", 3.6).attr("fill", legColors[i]);
  svg.append("text").attr("x", 430).attr("y", 50.5 + i * 18).attr("font-size", 12.5)
    .attr("font-family", "Noto Sans CJK JP").attr("font-weight", 300)
    .style("fill", "#555").text(l);
});
</script>
</body></html>
